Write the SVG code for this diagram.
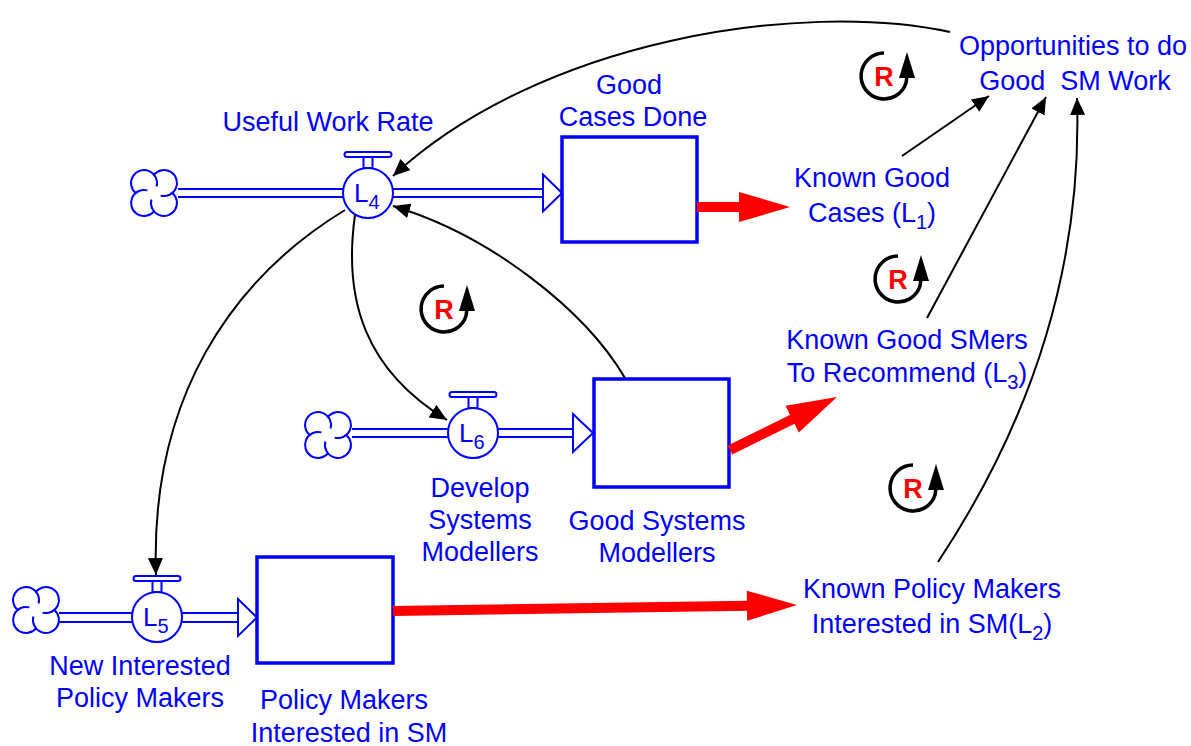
<svg xmlns="http://www.w3.org/2000/svg" xmlns:xlink="http://www.w3.org/1999/xlink" width="1191" height="746" viewBox="0 0 1191 746">
<style>
.t{font-family:"Liberation Sans",Arial,sans-serif;font-size:27px;fill:#0000ff;text-anchor:middle}
.vl{font-family:"Liberation Sans",Arial,sans-serif;font-size:26px;fill:#0000ff}
.pipe{stroke:#0000ff;stroke-width:2;fill:none}
.head{stroke:#0000ff;stroke-width:2;fill:#fff}
.box{stroke:#0000ff;stroke-width:3.5;fill:#fff}
.conn{stroke:#000;stroke-width:2;fill:none;marker-end:url(#ah)}
.red{fill:#ff0000}
.rs{stroke:#ff0000;stroke-width:10;fill:none}
.rt{font-family:"Liberation Sans",Arial,sans-serif;font-size:27px;font-weight:bold;fill:#ff0000;text-anchor:middle}
</style>
<defs>
<marker id="ah" markerUnits="userSpaceOnUse" markerWidth="17" markerHeight="15" refX="17" refY="7.5" orient="auto">
<path d="M0,0 L17,7.5 L0,15 z" fill="#000"/>
</marker>
<g id="cloud" class="pipe">
<path d="M-18.3,0 A13,13 0 1 1 2.6,-6.6"/>
<path d="M-18.3,0 A13,13 0 1 1 2.6,-6.6" transform="rotate(90)"/>
<path d="M-18.3,0 A13,13 0 1 1 2.6,-6.6" transform="rotate(180)"/>
<path d="M-18.3,0 A13,13 0 1 1 2.6,-6.6" transform="rotate(270)"/>
</g>
<g id="valve">
<rect x="-23.5" y="-41" width="47" height="5" rx="2.5" class="head"/>
<rect x="-4.5" y="-36" width="9" height="11" class="head"/>
<circle r="25" class="head"/>
</g>
<g id="loop">
<path d="M0,-23 A23,23 0 1 0 22,7 L23,0" stroke="#000" stroke-width="3.5" fill="none"/>
<path d="M23,-24 L15,2 L31,2 z" fill="#000"/>
</g>
</defs>
<rect width="1191" height="746" fill="#fff"/>

<g id="connectors">
<path class="conn" d="M950,32 C800,0 540,40 393,176"/>
<path class="conn" d="M625,378 C585,310 490,235 393,206"/>
<path class="conn" d="M355,215 C343,300 365,370 447,420"/>
<path class="conn" d="M345,210 C230,280 150,400 156,575"/>
<path class="conn" d="M902,156 L989,96"/>
<path class="conn" d="M927,318 L1046,97"/>
<path class="conn" d="M938,562 Q1085,340 1077,98"/>
</g>

<g id="flow-useful-work-rate">
<use xlink:href="#cloud" x="154" y="193"/>
<path class="pipe" d="M178,189 H343 M178,197 H343 M393,189 H543 M393,197 H543"/>
<polygon class="head" points="543,174.5 562,193 543,211.5"/>
<use xlink:href="#valve" x="368" y="193"/>
<text class="vl" x="354" y="202">L<tspan font-size="20" dy="7">4</tspan></text>
<text class="t" x="328" y="131">Useful Work Rate</text>
</g>

<g id="flow-develop">
<use xlink:href="#cloud" x="328" y="435"/>
<path class="pipe" d="M352,429 H448 M352,437 H448 M498,429 H573 M498,437 H573"/>
<polygon class="head" points="573,414 593,433 573,452"/>
<use xlink:href="#valve" x="473" y="433"/>
<text class="vl" x="459" y="442">L<tspan font-size="20" dy="7">6</tspan></text>
<text class="t" x="480" y="497">Develop</text>
<text class="t" x="480" y="529">Systems</text>
<text class="t" x="480" y="561">Modellers</text>
</g>

<g id="flow-new-policy">
<use xlink:href="#cloud" x="36" y="610"/>
<path class="pipe" d="M59,613 H132 M59,622 H132 M182,613 H238 M182,622 H238"/>
<polygon class="head" points="238,599 257,617.5 238,636"/>
<use xlink:href="#valve" x="157" y="617"/>
<text class="vl" x="143" y="626">L<tspan font-size="20" dy="7">5</tspan></text>
<text class="t" x="140" y="675">New Interested</text>
<text class="t" x="140" y="707">Policy Makers</text>
</g>

<g id="stock-good-cases">
<rect class="box" x="562" y="137" width="135" height="105"/>
<text class="t" x="629" y="94">Good</text>
<text class="t" x="633" y="126">Cases Done</text>
</g>

<g id="stock-good-sm">
<rect class="box" x="594" y="379" width="135" height="108"/>
<text class="t" x="657" y="530">Good Systems</text>
<text class="t" x="657" y="562">Modellers</text>
</g>

<g id="stock-policy">
<rect class="box" x="257" y="557" width="136" height="106"/>
<text class="t" x="344" y="709">Policy Makers</text>
<text class="t" x="349" y="742">Interested in SM</text>
</g>

<g id="red-arrows">
<path class="rs" d="M697,207 H741" stroke-width="9"/>
<polygon class="red" points="739,192 790,207 739,222"/>
<path class="rs" d="M730,450 L794,418.5"/>
<polygon class="red" points="798.9,432.6 837,397 785.5,405.8"/>
<path class="rs" d="M393,611 L749,605.7"/>
<polygon class="red" points="747.2,620.7 797,605 746.8,590.7"/>
</g>

<g id="known-good-cases">
<text class="t" x="872" y="187">Known Good</text>
<text class="t" x="872" y="222">Cases (L<tspan font-size="20" dy="7">1</tspan><tspan dy="-7">)</tspan></text>
</g>

<g id="known-good-smers">
<text class="t" x="907" y="349">Known Good SMers</text>
<text class="t" x="907" y="382">To Recommend (L<tspan font-size="20" dy="7">3</tspan><tspan dy="-7">)</tspan></text>
</g>

<g id="known-policy">
<text class="t" x="932" y="598">Known Policy Makers</text>
<text class="t" x="932" y="633">Interested in SM(L<tspan font-size="20" dy="7">2</tspan><tspan dy="-7">)</tspan></text>
</g>

<g id="opportunities">
<text class="t" x="1073" y="55">Opportunities to do</text>
<text class="t" x="1075" y="90" xml:space="preserve">Good  SM Work</text>
</g>

<g id="loops">
<use xlink:href="#loop" x="884" y="76"/>
<text class="rt" x="884" y="86">R</text>
<use xlink:href="#loop" x="898" y="279"/>
<text class="rt" x="898" y="289">R</text>
<use xlink:href="#loop" x="913" y="488"/>
<text class="rt" x="913" y="498">R</text>
<use xlink:href="#loop" x="444" y="309"/>
<text class="rt" x="444" y="319">R</text>
</g>
</svg>
